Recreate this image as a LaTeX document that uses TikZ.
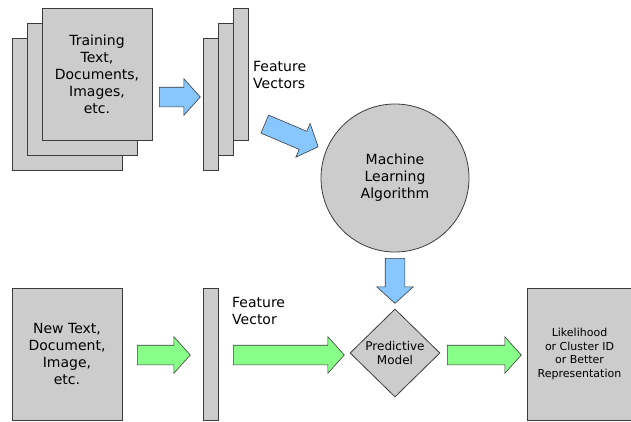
\documentclass[tikz,border=0pt]{standalone}
\usepackage{fontspec}
\setmainfont{DejaVu Sans}
\usetikzlibrary{shapes.geometric,shapes.arrows}
\definecolor{boxgray}{RGB}{204,204,204}
\definecolor{edgegray}{RGB}{60,60,60}
\definecolor{skyfill}{RGB}{135,198,255}
\definecolor{mintfill}{RGB}{136,255,136}
\begin{document}
\begin{tikzpicture}[x=1pt,y=-1pt,
	sheet/.style={draw=edgegray,fill=boxgray,line width=0.8pt,inner sep=0pt,minimum width=110pt,minimum height=132pt,align=center,font=\fontsize{14}{17}\selectfont},
	bar/.style={draw=edgegray,fill=boxgray,line width=0.8pt,inner sep=0pt,minimum width=15pt,minimum height=132pt},
	lbl/.style={inner sep=0pt,align=left,anchor=west,font=\fontsize{14}{17}\selectfont},
	fat/.style={single arrow,anchor=tail,draw=edgegray,line width=0.6pt,inner xsep=0pt,inner ysep=9.5pt,minimum width=36pt,single arrow head extend=8.5pt,single arrow tip angle=96},
	skyarrow/.style={fat,fill=skyfill},
	mintarrow/.style={fat,fill=mintfill}]
	\useasboundingbox (0,0) rectangle (631,421);
	\clip (0,0) rectangle (631,421);

	\node[sheet] (docC) at (67,104) {};
	\node[sheet] (docB) at (82,89) {};
	\node[sheet] (docA) at (97,74) {Training\\Text,\\Documents,\\Images,\\etc.};
	\node[skyarrow,minimum height=41pt] (arrA) at (159,97) {};

	\node[bar] (vecC) at (210.5,104) {};
	\node[bar] (vecB) at (225.5,89) {};
	\node[bar] (vecA) at (240.5,74) {};
	\node[lbl] (vecLbl) at (253,75) {Feature\\Vectors};
	\node[skyarrow,minimum height=58pt,rotate=-23] (arrB) at (264.5,124) {};

	\node[circle,draw=edgegray,fill=boxgray,line width=0.8pt,minimum size=148pt,inner sep=0pt,align=center,font=\fontsize{14}{17}\selectfont] (mla) at (395,178) {Machine\\Learning\\Algorithm};
	\node[skyarrow,minimum height=45pt,rotate=-90] (arrC) at (395,258) {};

	\node[sheet] (newDoc) at (67,354) {New Text,\\Document,\\Image,\\etc.};
	\node[mintarrow,minimum height=53pt] (arrD) at (137,355) {};
	\node[bar] (newVec) at (210.5,354) {};
	\node[lbl] (newLbl) at (232,311) {Feature\\Vector};
	\node[mintarrow,minimum height=111pt] (arrE) at (233,355) {};

	\node[diamond,draw=edgegray,fill=boxgray,line width=0.8pt,minimum width=90pt,minimum height=88pt,inner sep=0pt,align=center,font=\fontsize{12}{14}\selectfont] (pred) at (395,353) {Predictive\\Model};
	\node[mintarrow,minimum height=74pt] (arrF) at (447,355) {};

	\node[sheet,minimum width=105pt,font=\fontsize{11}{13.5}\selectfont] (result) at (579.5,354) {Likelihood\\or Cluster ID\\or Better\\Representation};
\end{tikzpicture}
\end{document}
